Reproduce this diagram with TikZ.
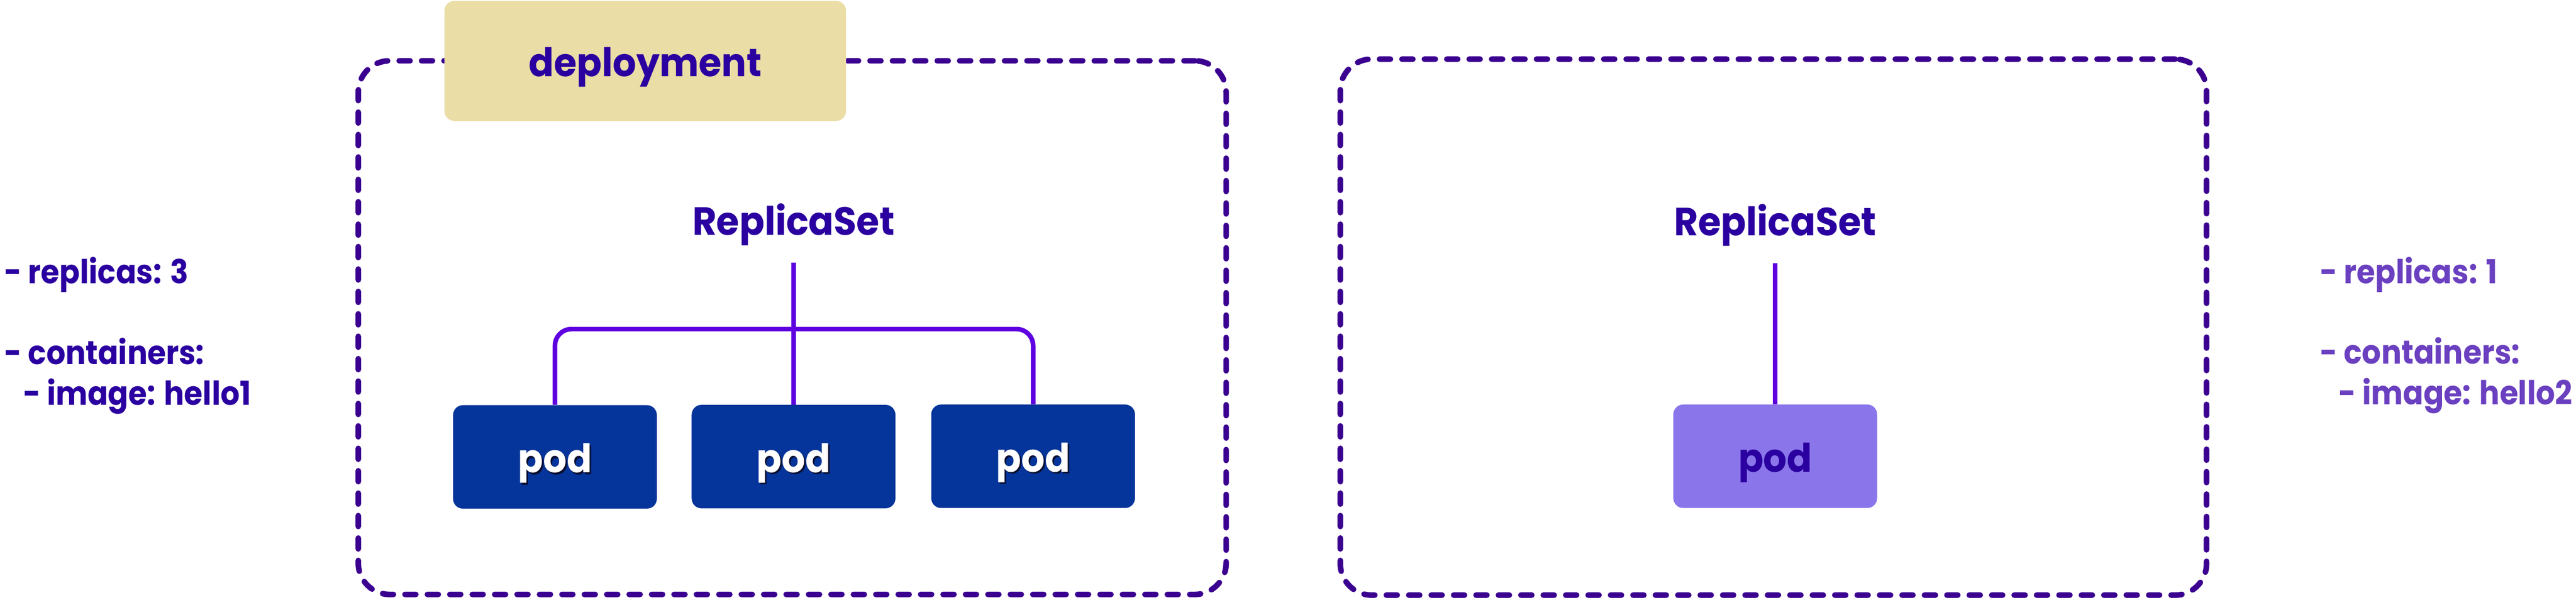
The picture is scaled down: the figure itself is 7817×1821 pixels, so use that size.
\documentclass[tikz,border=0pt]{standalone}
\usepackage{fontspec}
\setmainfont{Poppins}[FakeStretch=0.94]
\newfontfamily\specfam{Poppins}[FakeStretch=0.91]
\definecolor{dashcol}{HTML}{3B0090}
\definecolor{conncol}{HTML}{5E00E0}
\definecolor{navy}{HTML}{05349A}
\definecolor{lav}{HTML}{8A75EA}
\definecolor{sand}{HTML}{EBDDA6}
\definecolor{ink}{HTML}{2A00A0}
\definecolor{lilac}{HTML}{6A40C0}
\definecolor{podshade}{HTML}{0A0F30}
\newcommand{\shadowed}[1]{\makebox[0pt][l]{\hspace{0.05cm}\raisebox{-0.05cm}{\color{podshade}#1}}{\color{white}#1}}
\tikzset{
  bigfont/.style={font=\fontsize{34pt}{40pt}\selectfont\bfseries},
  smallfont/.style={font=\specfam\fontsize{28.5pt}{34pt}\selectfont\bfseries},
  dashbox/.style={draw=dashcol, line width=0.17cm, rounded corners=0.95cm,
    dash pattern=on 0.33cm off 0.35cm, line cap=round, inner sep=0},
  depbox/.style={fill=sand, rounded corners=0.3cm, minimum width=12.18cm,
    minimum height=3.64cm, inner sep=0, text height=1.1cm, text depth=0.16cm,
    bigfont, text=ink},
  podbox/.style={rounded corners=0.3cm, minimum width=6.18cm, minimum height=3.14cm,
    inner sep=0, text height=1.1cm, text depth=0.14cm, bigfont},
  rslabel/.style={bigfont, text=ink, inner sep=0, outer ysep=0.52cm, anchor=base},
  conn/.style={draw=conncol, line width=0.14cm},
  spec/.style={smallfont, inner sep=0, anchor=base west},
}
\begin{document}
\begin{tikzpicture}[x=0.01cm, y=-0.01cm]
\useasboundingbox[fill=white] (0,0) rectangle (7817,1821);

% containers
\node[dashbox, minimum width=26.32cm, minimum height=16.19cm] (boxL) at (2404,994.5) {};
\node[dashbox, minimum width=26.27cm, minimum height=16.26cm] (boxR) at (5381.5,993) {};

% deployment label
\node[depbox] (dep) at (1958,185) {deployment};

% left deployment
\node[rslabel] (rsL) at (2408,714) {ReplicaSet};
\node[podbox, fill=navy] (pod1) at (1684,1387) {\shadowed{pod}};
\node[podbox, fill=navy] (pod2) at (2408,1386) {\shadowed{pod}};
\node[podbox, fill=navy] (pod3) at (3135,1385) {\shadowed{pod}};
\coordinate (bar) at (2408,999);
\draw[conn] (rsL) -- (pod2);
\draw[conn, rounded corners=0.5cm] (pod1.north) |- (bar) -| (pod3.north);

% right replicaset
\node[rslabel] (rsR) at (5387,715) {ReplicaSet};
\node[podbox, fill=lav, text=ink] (pod4) at (5387,1385) {pod};
\draw[conn] (rsR) -- (pod4);

% specs
\node[spec, text=ink] (l1) at (13,860) {- replicas: 3};
\node[spec, text=ink] (l2) at (13,1106) {- containers:};
\node[spec, text=ink] (l3) at (70,1229) {- image: hello1};

\node[spec, text=lilac] (r1) at (7040,860) {- replicas: 1};
\node[spec, text=lilac] (r2) at (7040,1104) {- containers:};
\node[spec, text=lilac] (r3) at (7096,1228) {- image: hello2};
\end{tikzpicture}
\end{document}
